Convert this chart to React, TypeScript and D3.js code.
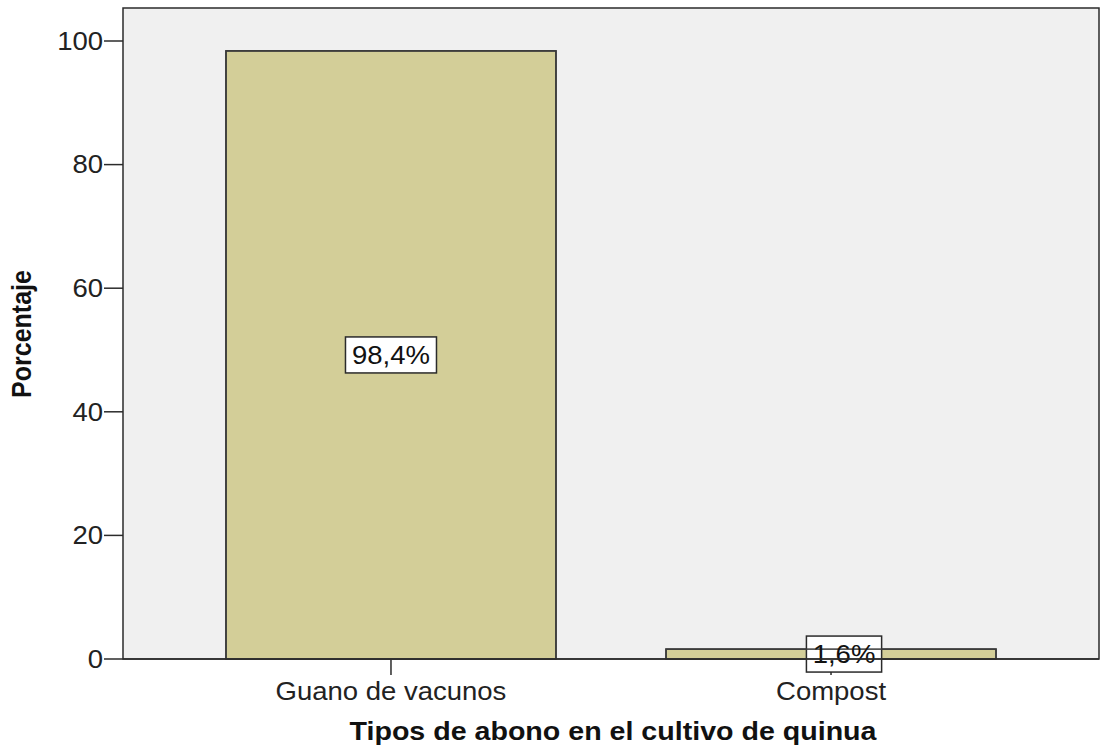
import React from "react";
import * as d3 from "d3";

const categories = ["Guano de vacunos", "Compost"];
const values = [98.4, 1.6];
const valueLabels = ["98,4%", "1,6%"];
const labelShift = [0, 13];
const yTicks = [0, 20, 40, 60, 80, 100];
const xTitle = "Tipos de abono en el cultivo de quinua";
const yTitle = "Porcentaje";

export default function App() {
  const W = 1101, H = 746;
  const left = 123, right = 1099, top = 8, bottom = 659;
  const y = d3.scaleLinear().domain([0, 100]).range([bottom, 41]);
  const x = d3.scalePoint<string>().domain(categories).range([left, right]).padding(0.609);
  const barW = 330;
  const font = "'Liberation Sans', Arial, sans-serif";
  const dark = "#2b2b2b";
  const sx = 1.1;
  const fs = 25;
  const stretched = (tx: number, ty: number) => `translate(${tx},${ty}) scale(${sx},1)`;
  return (
    <svg width={W} height={H} style={{ position: "absolute", left: 0, top: 0, background: "#fff" }} fontFamily={font}>
      <rect x={left} y={top} width={right - left} height={bottom - top} fill="#f0f0f0" stroke={dark} strokeWidth={1.5} />
      {categories.map((c, i) => {
        const cx = x(c)!;
        const y0 = y(values[i]);
        return (
          <rect key={c} x={cx - barW / 2} y={y0} width={barW} height={bottom - y0} fill="#d3ce98" stroke="#3a3a3a" strokeWidth={1.5} />
        );
      })}
      {yTicks.map((t) => (
        <g key={t}>
          <line x1={104} x2={left} y1={y(t)} y2={y(t)} stroke={dark} strokeWidth={1.5} />
          <text transform={stretched(103, y(t))} dy="0.35em" textAnchor="end" fontSize={fs} fill="#222">{t}</text>
        </g>
      ))}
      {categories.map((c) => (
        <g key={c}>
          <line x1={x(c)!} x2={x(c)!} y1={bottom} y2={675} stroke={dark} strokeWidth={1.5} />
          <text transform={stretched(x(c)!, 700)} textAnchor="middle" fontSize={fs} fill="#222">{c}</text>
        </g>
      ))}
      {categories.map((c, i) => {
        const cx = x(c)! + labelShift[i];
        const y0 = y(values[i]);
        const cy = (y0 + bottom) / 2;
        const w = valueLabels[i].length * 15.8 + 12;
        return (
          <g key={"l" + c}>
            <rect x={cx - w / 2} y={cy - 18} width={w} height={36} fill="#fff" stroke={dark} strokeWidth={1.5} />
            <rect x={x(c)! - barW / 2} y={y0} width={barW} height={bottom - y0} fill="none" stroke="#3a3a3a" strokeWidth={1.5} />
            <text transform={stretched(cx, cy)} dy="0.36em" textAnchor="middle" fontSize={fs} fill="#111">{valueLabels[i]}</text>
          </g>
        );
      })}
      <line x1={left} x2={right} y1={bottom} y2={bottom} stroke={dark} strokeWidth={1.5} />
      <text transform={stretched((left + right) / 2 + 2, 740)} textAnchor="middle" fontSize={26} fontWeight="bold" fill="#111">{xTitle}</text>
      <text transform={`translate(31, ${334}) rotate(-90) scale(1,${sx})`} textAnchor="middle" fontSize={25} fontWeight="bold" fill="#111">{yTitle}</text>
    </svg>
  );
}
